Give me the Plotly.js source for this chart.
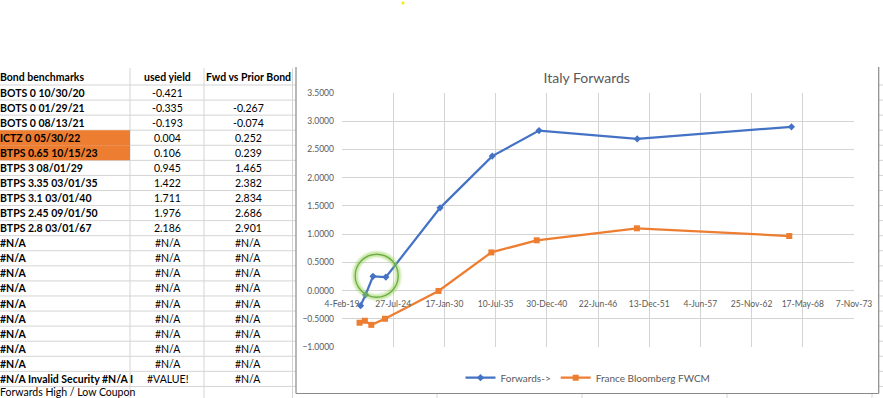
<!DOCTYPE html>
<html>
<head>
<meta charset="utf-8">
<script src="https://cdn.plot.ly/plotly-3.0.1.min.js"></script>
<style>
html,body{margin:0;padding:0;background:#fff;}
#chart{width:883px;height:398px;}
</style>
</head>
<body>
<div id="chart"></div>
<script>
// ---- data ----
const headers = ['Bond benchmarks', 'used yield', 'Fwd vs Prior Bond'];
const bonds = ['BOTS 0 10/30/20', 'BOTS 0 01/29/21', 'BOTS 0 08/13/21', 'ICTZ 0 05/30/22', 'BTPS 0.65 10/15/23',
  'BTPS 3 08/01/29', 'BTPS 3.35 03/01/35', 'BTPS 3.1 03/01/40', 'BTPS 2.45 09/01/50', 'BTPS 2.8 03/01/67'];
const maturities = ['2020-10-30', '2021-01-29', '2021-08-13', '2022-05-30', '2023-10-15',
  '2029-08-01', '2035-03-01', '2040-03-01', '2050-09-01', '2067-03-01'];
const usedYield = [-0.421, -0.335, -0.193, 0.004, 0.106, 0.945, 1.422, 1.711, 1.976, 2.186];
const fwdVsPrior = [null, -0.267, -0.074, 0.252, 0.239, 1.465, 2.382, 2.834, 2.686, 2.901];
const highlightedBonds = ['ICTZ 0 05/30/22', 'BTPS 0.65 10/15/23'];
const naRowCount = 9;
const invalidRow = ['#N/A Invalid Security #N/A I', '#VALUE!', '#N/A'];
const footerText = 'Forwards High / Low Coupon';

const franceDates = ['2020-12-20', '2021-07-15', '2022-03-25', '2023-09-10', '2029-06-01',
  '2035-01-25', '2039-12-01', '2050-08-20', '2066-12-05'];
const franceFwd = [-0.570, -0.535, -0.608, -0.500, -0.007, 0.676, 0.890, 1.103, 0.966];

const chartTitle = 'Italy Forwards';
const seriesNames = ['Forwards->', 'France Bloomberg FWCM'];

// ---- geometry ----
const W = 883, H = 398;
const ML = 342, MR = 29, MT = 93, MB = 51;
const PW = W - ML - MR, PH = H - MT - MB;
const px = x => (x - ML) / PW;
const py = y => (H - MB - y) / PH;

const FONT = 'Lato, Carlito, Calibri, sans-serif';
const GRIDC = '#d4d4d4';
const rowH = 15.07;
const firstLine = 85;

const shapes = [];
const annotations = [];
function hline(x0, x1, y, color, w, layer) {
  shapes.push({type: 'line', xref: 'paper', yref: 'paper', x0: px(x0), x1: px(x1), y0: py(y), y1: py(y),
    line: {color: color, width: w}, layer: layer || 'below'});
}
function vline(x, y0, y1, color, w, layer) {
  shapes.push({type: 'line', xref: 'paper', yref: 'paper', x0: px(x), x1: px(x), y0: py(y0), y1: py(y1),
    line: {color: color, width: w}, layer: layer || 'below'});
}
function rect(x0, y0, x1, y1, fill) {
  shapes.push({type: 'rect', xref: 'paper', yref: 'paper', x0: px(x0), x1: px(x1), y0: py(y0), y1: py(y1),
    fillcolor: fill, line: {width: 0}, layer: 'below'});
}
function text(t, x, y, anchor, bold, size) {
  annotations.push({xref: 'paper', yref: 'paper', x: px(x), y: py(y), xanchor: anchor, yanchor: 'middle',
    showarrow: false, borderpad: 0, text: bold ? '<b>' + t + '</b>' : t,
    font: {family: FONT, size: size || 10.5, color: '#000'}});
}

// spreadsheet row lines
for (let k = 0; k <= 20; k++) {
  const y = firstLine + k * rowH;
  hline(0, 296, y, GRIDC, 1);
  if (y > 83) hline(879, 883, y, GRIDC, 1);
}
// column lines
vline(130, 68, 398, GRIDC, 1);
vline(204, 68, 398, GRIDC, 1);
vline(292.5, 68, 398, GRIDC, 1);
[437, 582, 727, 872].forEach(x => vline(x, 394, 398, GRIDC, 1));

// orange highlighted cells
bonds.forEach((b, i) => {
  if (highlightedBonds.indexOf(b) >= 0) {
    const r = i + 1;
    rect(0, firstLine + (r - 1) * rowH, 130, firstLine + r * rowH, '#ED7D31');
  }
});

// chart object background + border
rect(296, 67, 878.7, 393.5, '#ffffff');
vline(296, 67, 393.5, '#8a8a8a', 1.2);
vline(878.7, 67, 393.5, '#8a8a8a', 1.2);
hline(296, 878.7, 393.5, '#8a8a8a', 1.2);

// table text
const colCenter = [-1, 167.5, 248];
const rowCenter = r => firstLine + (r - 0.5) * rowH;
text(headers[0], colCenter[0], 77.3, 'left', true);
text(headers[1], colCenter[1], 77.3, 'center', true);
text(headers[2], colCenter[2], 77.3, 'center', true);
bonds.forEach((b, i) => {
  const r = i + 1;
  text(b, colCenter[0], rowCenter(r), 'left', true);
  text(usedYield[i].toFixed(3), colCenter[1], rowCenter(r), 'center', false);
  if (fwdVsPrior[i] !== null) text(fwdVsPrior[i].toFixed(3), colCenter[2], rowCenter(r), 'center', false);
});
for (let j = 0; j < naRowCount; j++) {
  const r = bonds.length + 1 + j;
  text('#N/A', colCenter[0], rowCenter(r), 'left', true);
  text('#N/A', colCenter[1], rowCenter(r), 'center', false);
  text('#N/A', colCenter[2], rowCenter(r), 'center', false);
}
{
  const r = bonds.length + 1 + naRowCount;
  text(invalidRow[0], colCenter[0], rowCenter(r), 'left', true);
  text(invalidRow[1], colCenter[1], rowCenter(r), 'center', false);
  text(invalidRow[2], colCenter[2], rowCenter(r), 'center', false);
  text(footerText, -1, rowCenter(r + 1) - 1.5, 'left', false);
}

// green highlight circle
const cx = 376.7, cy = 275.7, rr = 21.5;
[[8, 'rgba(146,208,80,0.18)'], [5, 'rgba(146,208,80,0.35)'], [1.4, '#70AD47']].forEach(s => {
  shapes.push({type: 'circle', xref: 'paper', yref: 'paper', x0: px(cx - rr), x1: px(cx + rr), y0: py(cy + rr), y1: py(cy - rr),
    line: {color: s[1], width: s[0]}, layer: 'above'});
});
// yellow dot
shapes.push({type: 'circle', xref: 'paper', yref: 'paper', x0: px(401.5), x1: px(404.5), y0: py(4.5), y1: py(1.5),
  fillcolor: '#FFE600', line: {width: 0}, layer: 'above'});

const traces = [
  {type: 'scatter', mode: 'lines+markers', name: seriesNames[0], x: maturities, y: fwdVsPrior,
    line: {color: '#4472C4', width: 2.25}, marker: {symbol: 'diamond', size: 5.5, color: '#4472C4'}},
  {type: 'scatter', mode: 'lines+markers', name: seriesNames[1], x: franceDates, y: franceFwd,
    line: {color: '#ED7D31', width: 2.25}, marker: {symbol: 'square', size: 6, color: '#ED7D31'}}
];

const layout = {
  width: W, height: H,
  margin: {l: ML, r: MR, t: MT, b: MB, pad: 0, autoexpand: false},
  paper_bgcolor: 'rgba(0,0,0,0)', plot_bgcolor: '#ffffff',
  font: {family: FONT, color: '#595959'},
  title: {text: chartTitle, x: 586.7 / W, xref: 'container', xanchor: 'center', y: 1 - 78.3 / H, yanchor: 'middle',
    font: {family: FONT, size: 14, color: '#595959'}},
  xaxis: {type: 'date', range: ['2019-02-04', '2073-11-07'], tick0: '2019-02-04', dtick: 2000 * 86400000,
    tickformat: '%-d-%b-%y', anchor: 'free', position: 1 / 4.5, showgrid: true, gridcolor: GRIDC, gridwidth: 1,
    showline: false, zeroline: false, ticks: '', ticklabelstandoff: 7, automargin: false,
    tickfont: {family: FONT, size: 8.5, color: '#595959'}},
  yaxis: {range: [-1, 3.5], dtick: 0.5, tick0: 0, tickformat: '.4f', showgrid: true, gridcolor: GRIDC,
    zeroline: true, zerolinecolor: GRIDC, zerolinewidth: 1, showline: false, ticks: '', ticklabelstandoff: 7,
    automargin: false, tickfont: {family: FONT, size: 8.5, color: '#595959'}},
  showlegend: true,
  legend: {orientation: 'h', x: px(588), xanchor: 'center', y: py(377.7), yanchor: 'middle',
    font: {family: FONT, size: 10, color: '#595959'}, itemwidth: 30, bgcolor: 'rgba(0,0,0,0)'},
  shapes: shapes,
  annotations: annotations
};

Plotly.newPlot('chart', traces, layout, {displayModeBar: false, staticPlot: true});
</script>
</body>
</html>
